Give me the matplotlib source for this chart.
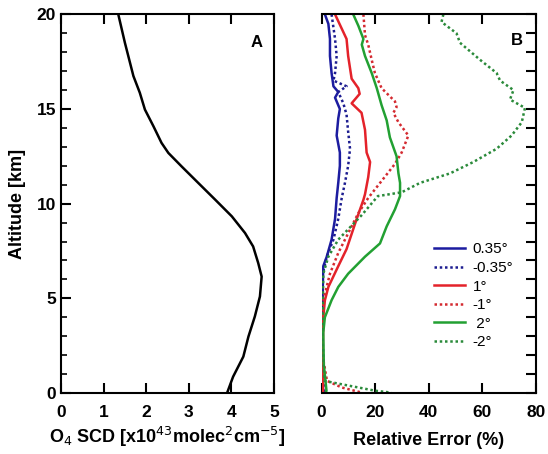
import matplotlib
matplotlib.use("Agg")
import matplotlib.pyplot as plt
from matplotlib.ticker import MultipleLocator

plt.rcParams['font.family'] = ['Liberation Sans', 'DejaVu Sans']

# Panel A: O4 SCD profile
alt_a = [20, 18.5, 16.74, 15.86, 14.97, 14.09, 13.21, 12.68, 11.97, 11.10, 10.21, 9.33,
         8.45, 7.74, 6.86, 6.15, 5.10, 4.04, 2.98, 1.92, 0.86, 0.07]
scd = [1.345, 1.50, 1.70, 1.85, 1.97, 2.17, 2.36, 2.52, 2.83, 3.22, 3.62, 4.01,
       4.32, 4.51, 4.63, 4.71, 4.67, 4.55, 4.40, 4.28, 4.04, 3.91]

# Panel B: relative errors (altitude, %)
alt_p035 = [20, 19.5, 18.7, 17.8, 16.9, 16.2, 15.9, 15.6, 15.2, 15.0, 14.5, 13.6, 12.7, 12.0, 11.1, 10.3, 9.2, 8.1, 7.2, 6.7, 4.9, 3.0, 1.0, 0]
err_p035 = [1.2, 2.5, 3.1, 3.1, 3.7, 4.4, 6.2, 5.0, 6.2, 6.8, 6.2, 5.6, 6.8, 6.8, 6.2, 5.6, 5.0, 3.7, 1.9, 0.6, 0.3, 0.3, 0.4, 0.5]

alt_m035 = [20, 18.7, 17.8, 16.9, 16.5, 16.2, 15.9, 15.3, 14.7, 13.8, 12.9, 12.0, 11.1, 10.3, 9.2, 8.1, 7.2, 6.3, 4.0, 2.0, 0.5, 0]
err_m035 = [3.7, 5.0, 5.6, 5.0, 4.4, 9.3, 6.2, 8.1, 9.3, 9.9, 10.6, 9.9, 8.7, 7.5, 6.2, 4.4, 1.9, 0.4, 0.3, 0.3, 0.6, 1.2]

alt_p1 = [20, 18.7, 17.8, 16.6, 16.1, 15.8, 15.3, 14.8, 13.9, 12.7, 12.2, 11.4, 10.5, 10.2, 9.2, 8.4, 7.6, 6.7, 5.6, 4.9, 4.0, 2.0, 0]
err_p1 = [5.0, 9.3, 9.9, 11.2, 13.7, 14.2, 11.2, 14.9, 16.2, 16.8, 18.1, 17.4, 16.2, 15.6, 13.1, 11.2, 9.3, 6.2, 2.5, 1.2, 0.6, 0.4, 0.5]

alt_m1 = [20, 18.9, 18.4, 17.6, 16.9, 16.1, 15.4, 15.1, 14.8, 14.3, 13.6, 12.7, 12.1, 11.2, 10.3, 9.5, 8.8, 8.1, 7.4, 6.3, 4.9, 2.0, 0.64, 0.29, 0.02]
err_m1 = [15.6, 16.2, 17.4, 18.7, 19.9, 22.4, 27.4, 28.0, 26.8, 28.7, 32.4, 29.9, 27.4, 22.4, 17.4, 13.7, 11.2, 8.7, 6.2, 3.1, 0.6, 0.3, 2.0, 7.5, 15.0]

alt_p2 = [20, 19.4, 18.7, 18.4, 17.8, 16.9, 16.1, 15.2, 14.4, 13.5, 12.5, 11.6, 11.1, 10.4, 9.7, 8.8, 7.9, 7.2, 6.3, 5.6, 4.9, 4.0, 3.2, 1.5, 0.12, 0]
err_p2 = [11.8, 13.7, 15.6, 15.0, 16.2, 18.7, 20.6, 22.4, 24.3, 25.5, 28.0, 28.7, 29.3, 29.3, 27.4, 24.3, 21.8, 16.2, 9.9, 6.2, 3.7, 1.2, 0.6, 0.8, 1.8, 1.5]

alt_m2 = [20, 19.6, 19.0, 18.5, 17.6, 16.9, 16.5, 16.0, 15.5, 15.06, 14.3, 13.6, 12.9, 12.2, 11.6, 11.1, 10.6, 10.4, 9.4, 8.1, 7.2, 6.3, 3.0, 0.64, 0.38, 0.12, 0.02]
err_m2 = [45.5, 44.8, 50.4, 51.7, 59.2, 65.4, 66.7, 71.7, 70.4, 76.0, 74.8, 71.0, 65.4, 56.7, 48.0, 36.8, 29.9, 21.0, 15.0, 6.2, 2.5, 0.6, 0.3, 1.0, 10.4, 20.0, 26.0]

labels = ['0.35°', '-0.35°', '1°', '-1°', ' 2°', '-2°']
colors = ['#1c1ca0', '#1c1c90', '#e4222a', '#d42a30', '#22a032', '#2a8a3a']
dotted = (0, (1.0, 1.1))
styles = ['-', dotted, '-', dotted, '-', dotted]
alts = [alt_p035, alt_m035, alt_p1, alt_m1, alt_p2, alt_m2]
series = [err_p035, err_m035, err_p1, err_m1, err_p2, err_m2]

fig = plt.figure(figsize=(5.48, 4.54), dpi=100)
axA = fig.add_axes([0.1113, 0.1344, 0.3887, 0.834])
axB = fig.add_axes([0.587, 0.1344, 0.3905, 0.834])

axA.plot(scd, alt_a, color='black', lw=1.8)
axA.set_xlim(0, 5)
axA.set_ylim(0, 20)
axA.xaxis.set_major_locator(MultipleLocator(1))
axA.yaxis.set_major_locator(MultipleLocator(5))
axA.yaxis.set_minor_locator(MultipleLocator(1))
axA.tick_params(axis='both', which='both', direction='in', top=True, right=False)
axA.tick_params(axis='both', which='major', length=7, width=1.5, labelsize=12.5)
axA.tick_params(axis='x', which='major', pad=9)
axA.tick_params(axis='y', which='minor', length=4, width=1.2)
for lab in axA.get_xticklabels() + axA.get_yticklabels():
    lab.set_fontweight('bold')
axA.set_ylabel('Altitude [km]', fontsize=13, fontweight='bold', labelpad=8)
axA.set_xlabel('O$_4$ SCD [x10$^{43}$molec$^2$cm$^{-5}$]', fontsize=13, fontweight='bold', labelpad=3)
axA.text(0.92, 0.925, 'A', transform=axA.transAxes, ha='center', va='center', fontsize=12, fontweight='bold')
for sp in axA.spines.values():
    sp.set_linewidth(1.5)

for a, s, lab, c, ls in zip(alts, series, labels, colors, styles):
    axB.plot(s, a, color=c, ls=ls, lw=1.8, label=lab)
axB.set_xlim(0, 80)
axB.set_ylim(0, 20)
axB.xaxis.set_major_locator(MultipleLocator(20))
axB.yaxis.set_major_locator(MultipleLocator(5))
axB.yaxis.set_minor_locator(MultipleLocator(1))
axB.tick_params(axis='both', which='both', direction='in', top=True, left=False, right=True,
                labelleft=False)
axB.tick_params(axis='both', which='major', length=7, width=1.5, labelsize=12.5)
axB.tick_params(axis='x', which='major', pad=9)
axB.tick_params(axis='y', which='minor', length=7, width=1.5)
for lab in axB.get_xticklabels():
    lab.set_fontweight('bold')
axB.set_xlabel('Relative Error (%)', fontsize=13, fontweight='bold', labelpad=8)
axB.text(0.91, 0.93, 'B', transform=axB.transAxes, ha='center', va='center', fontsize=12, fontweight='bold')
axB.spines['left'].set_visible(False)
for k in ['top', 'right', 'bottom']:
    axB.spines[k].set_linewidth(1.5)
axB.legend(loc='lower right', bbox_to_anchor=(0.93, 0.095), frameon=False, fontsize=11,
           handlelength=2.0, handletextpad=0.5, labelspacing=0.3, borderpad=0)

fig.savefig('out.png', dpi=100)
